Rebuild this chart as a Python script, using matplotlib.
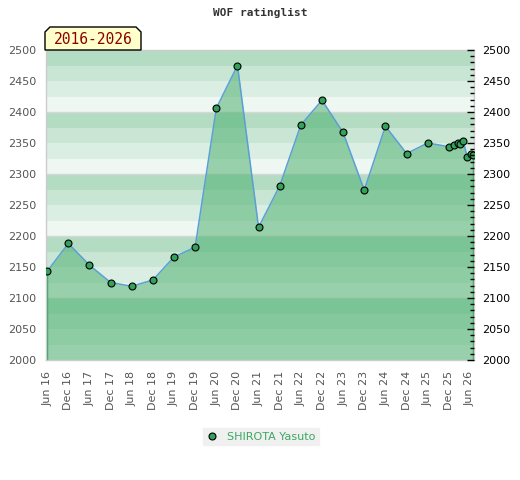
import matplotlib
matplotlib.use('Agg')
import matplotlib.pyplot as plt
import matplotlib.dates as mdates
from matplotlib.lines import Line2D
from matplotlib.patches import Polygon
import pandas as pd
import numpy as np

# rating history
dates = ['2016-06-01', '2016-12-01', '2017-06-01', '2017-12-01', '2018-06-01',
         '2018-12-01', '2019-06-01', '2019-12-01', '2020-06-01', '2020-12-01',
         '2021-06-01', '2021-12-01', '2022-06-01', '2022-12-01', '2023-06-01',
         '2023-12-01', '2024-06-01', '2024-12-01', '2025-06-01', '2025-12-01',
         '2026-01-12', '2026-02-15', '2026-03-08', '2026-04-05', '2026-05-08',
         '2026-06-10', '2026-07-01']
ratings = [2143, 2188, 2153, 2125, 2119, 2129, 2166, 2182, 2406, 2475,
           2214, 2281, 2379, 2419, 2367, 2274, 2377, 2333, 2350, 2344,
           2346, 2350, 2348, 2353, 2327, 2332, 2330]
player = 'SHIROTA Yasuto'
period = '2016-2026'

tick_dates = pd.date_range('2016-06-01', '2026-06-01', freq='6MS')
band_colors = ['#b4dcc3', '#c8e6d3', '#dbeee3', '#eef7f1']

x = pd.to_datetime(dates)
y = np.array(ratings)

W, H = 520, 480
fig = plt.figure(figsize=(W / 100, H / 100), dpi=100)
ax = fig.add_axes([46 / W, 1 - 360 / H, (474 - 46) / W, (360 - 50) / H])

ymin, ymax = 2000, 2500
ax.set_ylim(ymin, ymax)
ax.set_xlim(pd.Timestamp('2016-05-22'), pd.Timestamp('2026-07-06'))

# striped background, 4 shades per 100 points
for i, lo in enumerate(range(ymax - 25, ymin - 1, -25)):
    ax.axhspan(lo, lo + 25, color=band_colors[i % 4], lw=0, zorder=0)
for g in range(2100, 2500, 100):
    ax.axhline(g, color='#d4d8d6', lw=1, zorder=0.5)

ax.fill_between(x, y, ymin, color='#4aaf6d', alpha=0.53, lw=0, zorder=1)
ax.vlines([x[0], x[-1]], ymin, [y[0], y[-1]], color='#33a15a', lw=1, zorder=2)
ax.plot(x, y, color='#5b9fd6', lw=1.1, zorder=3)
ax.plot(x, y, ls='none', marker='o', ms=5, mfc='#33a15a', mec='black',
        mew=0.8, zorder=4)

for s in ax.spines.values():
    s.set_color('#cccccc')
    s.set_linewidth(1)

ax.set_xticks(tick_dates)
ax.xaxis.set_major_formatter(mdates.DateFormatter('%b %y'))
ax.tick_params(axis='x', length=0, pad=8, labelsize=8, labelcolor='#555555',
               labelrotation=90)
ax.set_yticks(range(ymin, ymax + 1, 50))
ax.tick_params(axis='y', length=0, pad=7, labelsize=8, labelcolor='#555555')

ax2 = ax.twinx()
ax2.set_ylim(ymin, ymax)
ax2.set_yticks(range(ymin, ymax + 1, 50))
ax2.set_yticks(range(ymin, ymax + 1, 10), minor=True)
ax2.tick_params(axis='y', which='major', direction='in', length=5, width=1,
                pad=6, labelsize=8, labelcolor='black', color='black')
ax2.tick_params(axis='y', which='minor', direction='in', length=3, width=1,
                color='black')
for s in ax2.spines.values():
    s.set_visible(False)

fig.text(260 / W, 1 - 13 / H, 'WOF ratinglist', ha='center', va='center',
         family='DejaVu Sans Mono', fontsize=8, fontweight='bold', color='#333333')

# period label box with cut corners
pts = [(45, 50), (45, 32), (50, 27), (136, 27), (141, 32), (141, 50)]
box = Polygon([(px / W, 1 - py / H) for px, py in pts], closed=True,
              transform=fig.transFigure, facecolor='#ffffcc', edgecolor='black',
              lw=1, zorder=5)
fig.patches.append(box)
fig.text(93 / W, 1 - 39.5 / H, period, ha='center', va='center',
         family='DejaVu Sans Mono', fontsize=10.5, color='#8b0000', zorder=6)

handle = Line2D([], [], ls='none', marker='o', ms=5, mfc='#33a15a',
                mec='black', mew=0.8)
leg = fig.legend([handle], [player], loc='center',
                 bbox_to_anchor=(261 / W, 1 - 436.5 / H), frameon=True,
                 fancybox=False, facecolor='#f0f0f0', edgecolor='#f0f0f0',
                 framealpha=1, fontsize=8, labelcolor='#3aa860',
                 handlelength=1.0, handletextpad=0.8, borderpad=0.3)

fig.savefig('out.png', dpi=100)
